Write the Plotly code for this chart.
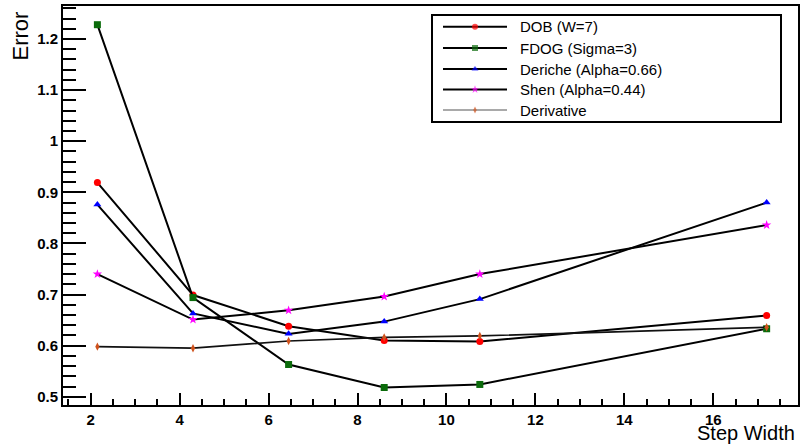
import plotly.graph_objects as go

# ---- data ----
step_width = [2.15, 4.3, 6.45, 8.6, 10.75, 17.2]
dob = [0.919, 0.699, 0.638, 0.610, 0.608, 0.659]
fdog = [1.228, 0.694, 0.563, 0.518, 0.524, 0.633]
deriche = [0.876, 0.663, 0.623, 0.647, 0.691, 0.880]
shen = [0.740, 0.651, 0.669, 0.696, 0.740, 0.836]
derivative = [0.598, 0.595, 0.609, 0.616, 0.619, 0.636]

series_names = ["DOB (W=7)", "FDOG (Sigma=3)", "Deriche (Alpha=0.66)",
                "Shen (Alpha=0.44)", "Derivative"]
series_values = [dob, fdog, deriche, shen, derivative]
marker_colors = ["#ff0000", "#0b6b0b", "#0000ff", "#ff00ff", "#d0521c"]
marker_symbols = ["circle", "square", "triangle-up", "star", "diamond-tall"]
marker_sizes = [7, 7, 7, 7, 6]
line_colors = ["black", "black", "black", "black", "#111111"]
line_widths = [2, 2, 2, 2, 1.7]

FONT = "Liberation Sans, Arial, Helvetica, sans-serif"

fig = go.Figure()

for name, vals, mc, ms, msz, lc, lw in zip(series_names, series_values, marker_colors,
                                           marker_symbols, marker_sizes, line_colors, line_widths):
    fig.add_trace(go.Scatter(
        x=step_width, y=vals, mode="lines+markers", name=name,
        line=dict(color=lc, width=lw),
        marker=dict(color=mc, symbol=ms, size=msz, line=dict(width=0)),
        showlegend=False, cliponaxis=False,
    ))

# ---- manual legend (ROOT TLegend style), in pixel-like overlay coords ----
L, R, T, B = 63, 798, 6, 405
leg_rows = [26.7, 48.0, 69.0, 89.5, 110.0]
for i, (name, mc, ms, msz) in enumerate(zip(series_names, marker_colors, marker_symbols,
                                            marker_sizes)):
    yy = leg_rows[i]
    fig.add_trace(go.Scatter(
        x=[443, 475, 507], y=[yy, yy, yy], xaxis="x2", yaxis="y2",
        mode="lines+markers",
        line=dict(color="black" if i < 4 else "#555555", width=2 if i < 4 else 1.2),
        marker=dict(color=mc, symbol=ms, size=[0, msz - 1, 0], line=dict(width=0)),
        showlegend=False, hoverinfo="skip",
    ))
    fig.add_annotation(x=518, y=yy, xref="x2", yref="y2", text=name, showarrow=False,
                       xanchor="left", yanchor="middle",
                       font=dict(family=FONT, size=15, color="black"))

fig.add_shape(type="rect", xref="x2", yref="y2", x0=432, x1=781, y0=15, y1=122,
              line=dict(color="black", width=2), fillcolor="white", layer="below")

fig.update_layout(
    width=800, height=446,
    margin=dict(l=L, r=800 - R, t=T, b=446 - B),
    paper_bgcolor="white", plot_bgcolor="white",
    font=dict(family=FONT, color="black"),
    xaxis=dict(
        range=[1.377, 17.905], dtick=2, tick0=0,
        ticks="inside", ticklen=12, tickwidth=1.5, tickcolor="black",
        minor=dict(dtick=0.5, ticks="inside", ticklen=6, tickwidth=1.5, tickcolor="black"),
        showgrid=False, zeroline=False,
        showline=True, linecolor="black", linewidth=2, mirror=True,
        tickfont=dict(family=FONT, size=15, color="black", weight="bold"),
        automargin=False,
    ),
    yaxis=dict(
        range=[0.4838, 1.2646], dtick=0.1, tick0=0,
        ticks="inside", ticklen=23, tickwidth=2, tickcolor="black",
        minor=dict(dtick=0.02, ticks="inside", ticklen=13, tickwidth=2, tickcolor="black"),
        showgrid=False, zeroline=False,
        showline=True, linecolor="black", linewidth=2, mirror=True,
        tickfont=dict(family=FONT, size=15, color="black", weight="bold"),
        automargin=False,
    ),
    xaxis2=dict(range=[L, R], overlaying="x", visible=False, fixedrange=True),
    yaxis2=dict(range=[B, T], overlaying="y", visible=False, fixedrange=True),
)

fig.add_annotation(text="Error", xref="paper", yref="paper",
                   x=(20 - L) / (R - L), y=(B - 10) / (B - T),
                   xanchor="center", yanchor="top", textangle=-90, showarrow=False,
                   font=dict(family=FONT, size=22, color="black"))
fig.add_annotation(text="Step Width", xref="paper", yref="paper",
                   x=(797 - L) / (R - L), y=(B - 446) / (B - T),
                   xanchor="right", yanchor="bottom", showarrow=False,
                   font=dict(family=FONT, size=20, color="black"))

fig.write_html("out.html", config={"displayModeBar": False},
               post_script="document.body.style.margin='0';document.body.style.overflow='hidden';")
